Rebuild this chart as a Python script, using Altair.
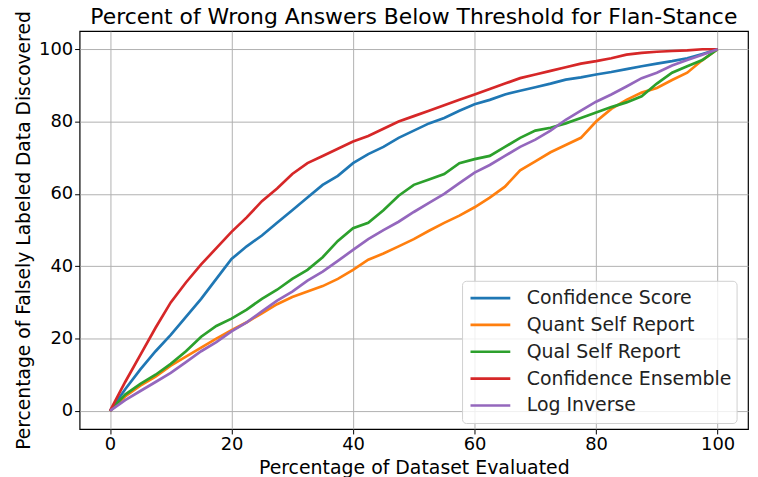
import altair as alt
import pandas as pd

x_vals = [0, 2.5, 5, 7.5, 10, 12.5, 15, 17.5, 20, 22.5, 25, 27.5, 30, 32.5, 35, 37.5, 40,
          42.5, 45, 47.5, 50, 52.5, 55, 57.5, 60, 62.5, 65, 67.5, 70, 72.5, 75, 77.5, 80,
          82.5, 85, 87.5, 90, 92.5, 95, 97.5, 100]

confidence_score = [0, 6, 11.5, 16.5, 21, 26, 31, 36.5, 42, 45.5, 48.5, 52, 55.5, 59, 62.5, 65,
                    68.5, 71, 73, 75.5, 77.5, 79.5, 81, 83, 84.8, 86, 87.5, 88.5, 89.5, 90.5,
                    91.6, 92.2, 93, 93.7, 94.5, 95.3, 96, 96.7, 97.5, 98.7, 100]
quant_self_report = [0, 4, 7, 9.5, 12.5, 15, 17.5, 20, 22.3, 24.5, 27, 29.5, 31.5, 33, 34.5, 36.5,
                     39, 41.8, 43.5, 45.5, 47.5, 49.8, 52, 54, 56.3, 59, 62, 66.5, 69, 71.5,
                     73.5, 75.5, 80, 83.5, 86, 88, 89.3, 91.5, 93.5, 97, 100]
qual_self_report = [0, 4.5, 7.5, 10, 13, 16.5, 20.5, 23.5, 25.5, 28, 31, 33.5, 36.5, 39, 42.5, 47,
                    50.5, 52, 55.5, 59.5, 62.5, 64, 65.5, 68.5, 69.6, 70.5, 73, 75.5, 77.5, 78.3,
                    79.5, 81, 82.5, 84, 85.3, 87, 90.5, 93.5, 95.3, 97, 100]
confidence_ensemble = [0, 8, 15.5, 23, 30, 35.5, 40.5, 45, 49.5, 53.5, 58, 61.5, 65.5, 68.5, 70.5,
                       72.5, 74.5, 76, 78, 80, 81.5, 83, 84.5, 86, 87.5, 89, 90.5, 92, 93, 94,
                       95, 96, 96.7, 97.5, 98.5, 99, 99.3, 99.5, 99.7, 100, 100]
log_inverse = [0, 3, 5.5, 8, 10.5, 13.5, 16.5, 19, 22, 24.5, 27.5, 30.5, 33, 36, 38.5, 41.5, 44.5,
               47.5, 50, 52.3, 55, 57.5, 60, 63, 65.9, 68, 70.5, 73, 75, 77.5, 80.5, 83, 85.5,
               87.5, 89.7, 92, 93.5, 95.5, 97, 98.5, 100]

series_names = ["Confidence Score", "Quant Self Report", "Qual Self Report",
                "Confidence Ensemble", "Log Inverse"]
series_values = [confidence_score, quant_self_report, qual_self_report,
                 confidence_ensemble, log_inverse]
colors = ["#1f77b4", "#ff7f0e", "#2ca02c", "#d62728", "#9467bd"]
tick_vals = [0, 20, 40, 60, 80, 100]

rows = []
for i, (name, vals) in enumerate(zip(series_names, series_values)):
    for x, y in zip(x_vals, vals):
        rows.append({"x": x, "y": y, "method": name, "order": i})
df = pd.DataFrame(rows)

font = "DejaVu Sans"

chart = alt.Chart(df).mark_line(strokeWidth=2.7).encode(
    x=alt.X("x:Q", scale=alt.Scale(domain=[-5, 105], nice=False, zero=False),
            axis=alt.Axis(values=tick_vals, title="Percentage of Dataset Evaluated",
                          format="d", titlePadding=5, titleFontSize=19)),
    y=alt.Y("y:Q", scale=alt.Scale(domain=[-5, 105], nice=False, zero=False),
            axis=alt.Axis(values=tick_vals, title="Percentage of Falsely Labeled Data Discovered",
                          format="d", titlePadding=5, titleFontSize=18.8)),
    color=alt.Color("method:N", sort=series_names,
                    scale=alt.Scale(domain=series_names, range=colors),
                    legend=alt.Legend(title=None, orient="none", legendX=384.5, legendY=251,
                                      symbolType="stroke", symbolSize=1600, symbolOffset=3,
                                      symbolStrokeWidth=2.7, labelFontSize=19, labelFont=font,
                                      labelColor="#222", labelOffset=15, rowPadding=0,
                                      clipHeight=26.7, labelLimit=400,
                                      padding=4, fillColor="rgba(255,255,255,0.8)",
                                      strokeColor="#d0d0d0", cornerRadius=4)),
    detail="order:O",
).properties(
    width=672, height=400,
    title=alt.TitleParams("Percent of Wrong Answers Below Threshold for Flan-Stance",
                          fontSize=22, font=font, fontWeight="normal", color="black",
                          frame="group", offset=2, dy=20),
    padding={"left": 72, "top": 22, "right": 2, "bottom": 47},
    autosize=alt.AutoSizeParams(type="none"),
).configure_view(
    stroke="black", strokeWidth=1.2
).configure_axis(
    labelFont=font, titleFont=font, labelFontSize=18,
    labelColor="black", titleColor="black", titleFontWeight="normal",
    gridColor="#b0b0b0", gridWidth=1, domain=False,
    tickColor="black", tickSize=5, labelPadding=2,
)

chart.save("out.html", embed_options={"renderer": "svg", "actions": False})
